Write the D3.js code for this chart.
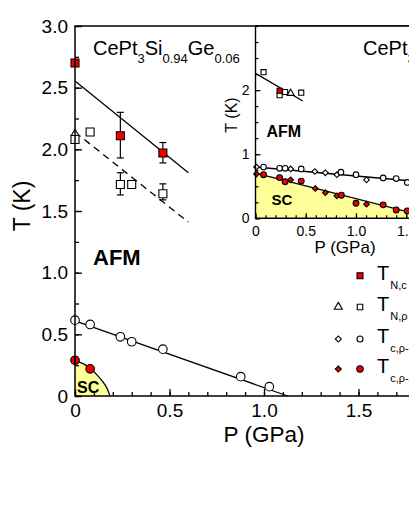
<!DOCTYPE html>
<html>
<head>
<meta charset="utf-8">
<script src="https://cdn.jsdelivr.net/npm/d3@7"></script>
<style>
body { margin: 0; background: #fff; }
svg { display: block; }
text { font-family: Arial, "Liberation Sans", sans-serif; fill: #000; }
</style>
</head>
<body>
<div id="chart"></div>
<script>
// ---- main panel data (P in GPa, T in K) ----
var tncP = [0, 0.24, 0.465];
var tncT = [2.70, 2.11, 1.97];
var tncLo = [null, 1.93, 1.89];
var tncHi = [null, 2.30, 2.055];

var tnrP = [0, 0.08, 0.24, 0.30, 0.465];
var tnrT = [2.08, 2.14, 1.715, 1.715, 1.64];
var tnrLo = [null, null, 1.63, null, 1.59];
var tnrHi = [null, null, 1.81, null, 1.72];

var triP = [0];
var triT = [2.13];

var onsetP = [0, 0.08, 0.24, 0.30, 0.465, 0.877, 1.028];
var onsetT = [0.615, 0.58, 0.48, 0.44, 0.38, 0.157, 0.076];

var zeroP = [0, 0.08];
var zeroT = [0.29, 0.22];

var afmFitP = [0, 0.60];
var afmFitT = [2.555, 1.81];
var afmDashP = [0, 0.60];
var afmDashT = [2.14, 1.41];
var onsetFitP = [0, 1.125];
var onsetFitT = [0.61, 0];
var scEdgeP = [0, 0.04, 0.08, 0.12, 0.15, 0.17, 0.185];
var scEdgeT = [0.285, 0.265, 0.225, 0.165, 0.11, 0.06, 0];

// ---- inset data ----
var inTncP = [0.24];
var inTncT = [1.99];
var inTnrP = [0.08, 0.24, 0.295, 0.455];
var inTnrT = [2.28, 1.92, 1.97, 1.96];
var inTriP = [0.35];
var inTriT = [1.95];
var inAfmP = [0, 0.47];
var inAfmT = [2.26, 1.83];

var inOnCircP = [0.08, 0.24, 0.295, 0.455, 0.85, 1.0, 1.27, 1.40, 1.51];
var inOnCircT = [0.80, 0.78, 0.78, 0.77, 0.72, 0.68, 0.63, 0.62, 0.56];
var inOnDiaP = [0.01, 0.35, 0.59, 0.695, 0.81, 1.105];
var inOnDiaT = [0.80, 0.77, 0.73, 0.71, 0.68, 0.60];
var inZeroCircP = [0.08, 0.24, 0.295, 0.455, 0.855, 1.0, 1.27, 1.40, 1.51];
var inZeroCircT = [0.68, 0.635, 0.57, 0.58, 0.36, 0.235, 0.21, 0.13, 0.115];
var inZeroDiaP = [0.01, 0.35, 0.595, 0.695, 0.81, 1.105];
var inZeroDiaT = [0.69, 0.60, 0.465, 0.40, 0.35, 0.22];
var inOnFitP = [0, 2.0];
var inOnFitT = [0.80, 0.52];
var inZeroFitP = [0, 1.77];
var inZeroFitT = [0.705, 0];

var mainXTicks = [0, 0.5, 1.0, 1.5, 2.0];
var mainYTicks = [0, 0.5, 1.0, 1.5, 2.0, 2.5, 3.0];
var inXTicks = [0, 0.5, 1.0, 1.5, 2.0];
var inYTicks = [0, 1, 2];
var legendSubs = ["N,c", "N,\u03c1", "c,\u03c1-onset", "c,\u03c1-zero"];

var RED = "#ee0000";
var YELLOW = "#ffff99";

function pts(ps, ts) {
    return ps.map(function(p, i){ return [p, ts[i]]; });
}

var w = 409, h = 529;
var svg = d3.select("#chart").append("svg")
    .attr("width", w)
    .attr("height", h);

var x = d3.scaleLinear().domain([0, 2]).range([75, 453]);
var y = d3.scaleLinear().domain([0, 3]).range([396, 26]);
var xi = d3.scaleLinear().domain([0, 2]).range([255.5, 456.5]);
var yi = d3.scaleLinear().domain([0, 3]).range([218.3, 26]);
var ident = function(d){ return d; };

var fmt = function(d){ return d === 0 ? "0" : d3.format(".1f")(d); };

// "diamond" = a square turned by 45 degrees
var DIAMOND = "diamond";

function drawLine(g, xs, ys, ps, ts, dash) {
    var line = d3.line().x(function(d){ return xs(d[0]); }).y(function(d){ return ys(d[1]); });
    g.append("path")
        .attr("d", line(pts(ps, ts)))
        .attr("fill", "none")
        .attr("stroke", "#000")
        .attr("stroke-width", 1.3)
        .attr("stroke-dasharray", dash || null);
}

function drawSymbols(g, xs, ys, ps, ts, type, size, fill) {
    var isDia = type === DIAMOND;
    var path = d3.symbol().type(isDia ? d3.symbolSquare : type).size(size)();
    g.selectAll(null)
        .data(pts(ps, ts))
        .enter()
        .append("path")
        .attr("d", path)
        .attr("transform", function(d){
            return "translate(" + xs(d[0]) + "," + ys(d[1]) + ")" + (isDia ? " rotate(45)" : "");
        })
        .attr("fill", fill)
        .attr("stroke", "#000")
        .attr("stroke-width", 1.1);
}

function drawCircles(g, xs, ys, ps, ts, r, fill) {
    g.selectAll(null)
        .data(pts(ps, ts))
        .enter()
        .append("circle")
        .attr("cx", function(d){ return xs(d[0]); })
        .attr("cy", function(d){ return ys(d[1]); })
        .attr("r", r)
        .attr("fill", fill)
        .attr("stroke", "#000")
        .attr("stroke-width", 1.1);
}

function drawErrors(g, ps, lo, hi) {
    ps.forEach(function(p, i){
        if (lo[i] === null) return;
        var cx = x(p);
        g.append("line").attr("x1", cx).attr("x2", cx)
            .attr("y1", y(lo[i])).attr("y2", y(hi[i]));
        g.append("line").attr("x1", cx - 3.5).attr("x2", cx + 3.5)
            .attr("y1", y(lo[i])).attr("y2", y(lo[i]));
        g.append("line").attr("x1", cx - 3.5).attr("x2", cx + 3.5)
            .attr("y1", y(hi[i])).attr("y2", y(hi[i]));
    });
    g.selectAll("line").attr("stroke", "#000").attr("stroke-width", 1.2);
}

// ---------- main panel ----------
var main = svg.append("g");

// SC dome
var scArea = d3.area()
    .x(function(d){ return x(d[0]); })
    .y0(y(0))
    .y1(function(d){ return y(d[1]); })
    .curve(d3.curveMonotoneX);
main.append("path")
    .attr("d", scArea(pts(scEdgeP, scEdgeT)))
    .attr("fill", YELLOW);
main.append("path")
    .attr("d", d3.line().x(function(d){ return x(d[0]); }).y(function(d){ return y(d[1]); })
        .curve(d3.curveMonotoneX)(pts(scEdgeP, scEdgeT)))
    .attr("fill", "none")
    .attr("stroke", "#000")
    .attr("stroke-width", 1.3);

drawLine(main, x, y, afmFitP, afmFitT);
drawLine(main, x, y, afmDashP, afmDashT, "7,5");
drawLine(main, x, y, onsetFitP, onsetFitT);

drawErrors(main.append("g"), tncP, tncLo, tncHi);
drawErrors(main.append("g"), tnrP, tnrLo, tnrHi);

drawSymbols(main, x, y, triP, triT, d3.symbolTriangle, 24, "#fff");
drawSymbols(main, x, y, tnrP, tnrT, d3.symbolSquare, 64, "#fff");
drawSymbols(main, x, y, tncP, tncT, d3.symbolSquare, 64, RED);
drawCircles(main, x, y, onsetP, onsetT, 4.3, "#fff");
drawCircles(main, x, y, zeroP, zeroT, 4.3, RED);

// main axes
var gx = main.append("g").attr("transform", "translate(0,396)");
gx.append("g").call(d3.axisBottom(x).tickValues(d3.range(0, 2.01, 0.1)).tickSize(-4).tickSizeOuter(0).tickFormat(""));
gx.append("g").call(d3.axisBottom(x).tickValues(mainXTicks).tickSize(-7).tickSizeOuter(0).tickPadding(8).tickFormat(fmt));
var gy = main.append("g").attr("transform", "translate(75,0)");
gy.append("g").call(d3.axisLeft(y).tickValues(d3.range(0, 3.01, 0.25)).tickSize(-4).tickSizeOuter(0).tickFormat(""));
gy.append("g").call(d3.axisLeft(y).tickValues(mainYTicks).tickSize(-7).tickSizeOuter(0).tickPadding(7).tickFormat(fmt));
main.selectAll(".domain").remove();
main.selectAll(".tick line").attr("stroke", "#000").attr("stroke-width", 1.3);
main.selectAll(".tick text").attr("font-size", "19px").attr("fill", "#000")
    .attr("font-family", 'Arial, "Liberation Sans", sans-serif');

main.append("path")
    .attr("d", "M" + x(2) + "," + y(3) + "H" + x(0) + "V" + y(0) + "H" + x(2))
    .attr("fill", "none").attr("stroke", "#000").attr("stroke-width", 1.5);

main.append("text").attr("x", 264).attr("y", 442)
    .attr("text-anchor", "middle").attr("font-size", "22.5px").text("P (GPa)");
main.append("text").attr("transform", "translate(30,206) rotate(-90)")
    .attr("text-anchor", "middle").attr("font-size", "23px").text("T (K)");

var title = main.append("text").attr("x", 93).attr("y", 55).attr("font-size", "20px");
title.append("tspan").text("CePt");
title.append("tspan").attr("font-size", "13px").attr("dy", 8).text("3");
title.append("tspan").attr("dy", -8).text("Si");
title.append("tspan").attr("font-size", "13px").attr("dy", 8).text("0.94");
title.append("tspan").attr("dy", -8).text("Ge");
title.append("tspan").attr("font-size", "13px").attr("dy", 8).text("0.06");

main.append("text").attr("x", 93).attr("y", 265)
    .attr("font-size", "22px").attr("font-weight", "bold").text("AFM");
main.append("text").attr("x", 77).attr("y", 392.5)
    .attr("font-size", "16px").attr("font-weight", "bold").text("SC");

// ---------- legend ----------
var leg = svg.append("g");
var legY = [275.7, 307, 339, 369];
drawSymbols(leg, ident, ident, [360], [legY[0]], d3.symbolSquare, 36, RED);
drawSymbols(leg, ident, ident, [338.3], [legY[1]], d3.symbolTriangle, 28, "#fff");
drawSymbols(leg, ident, ident, [360], [legY[1]], d3.symbolSquare, 30, "#fff");
drawSymbols(leg, ident, ident, [338.3], [legY[2]], DIAMOND, 18, "#fff");
drawCircles(leg, ident, ident, [360], [legY[2]], 3, "#fff");
drawSymbols(leg, ident, ident, [338.3], [legY[3]], DIAMOND, 18, RED);
drawCircles(leg, ident, ident, [360], [legY[3]], 3.2, RED);
legendSubs.forEach(function(s, i){
    var t = leg.append("text").attr("x", 377).attr("y", legY[i] + 4).attr("font-size", "20px");
    t.append("tspan").text("T");
    t.append("tspan").attr("font-size", "11px").attr("dy", 9).attr("dx", 1).text(s);
});

// ---------- inset ----------
var ins = svg.append("g");
ins.append("rect").attr("x", xi(0)).attr("y", yi(3))
    .attr("width", xi(2) - xi(0)).attr("height", yi(0) - yi(3)).attr("fill", "#fff");

var inArea = d3.area()
    .x(function(d){ return xi(d[0]); })
    .y0(yi(0))
    .y1(function(d){ return yi(d[1]); });
ins.append("path")
    .attr("d", inArea(pts(inZeroFitP, inZeroFitT)))
    .attr("fill", YELLOW);

drawLine(ins, xi, yi, inAfmP, inAfmT);
drawLine(ins, xi, yi, inOnFitP, inOnFitT);
drawLine(ins, xi, yi, inZeroFitP, inZeroFitT);

drawSymbols(ins, xi, yi, inTnrP, inTnrT, d3.symbolSquare, 26, "#fff");
drawSymbols(ins, xi, yi, inTriP, inTriT, d3.symbolTriangle, 22, "#fff");
drawSymbols(ins, xi, yi, inTncP, inTncT, d3.symbolSquare, 26, RED);
drawSymbols(ins, xi, yi, inOnDiaP, inOnDiaT, DIAMOND, 16, "#fff");
drawCircles(ins, xi, yi, inOnCircP, inOnCircT, 2.8, "#fff");
drawSymbols(ins, xi, yi, inZeroDiaP, inZeroDiaT, DIAMOND, 16, RED);
drawCircles(ins, xi, yi, inZeroCircP, inZeroCircT, 2.9, RED);

var ix = ins.append("g").attr("transform", "translate(0," + yi(0) + ")");
ix.append("g").call(d3.axisBottom(xi).tickValues(d3.range(0, 2.01, 0.1)).tickSize(-3).tickSizeOuter(0).tickFormat(""));
ix.append("g").call(d3.axisBottom(xi).tickValues(inXTicks).tickSize(-5).tickSizeOuter(0).tickPadding(8).tickFormat(fmt));
var iy = ins.append("g").attr("transform", "translate(" + xi(0) + ",0)");
iy.append("g").call(d3.axisLeft(yi).tickValues(d3.range(0, 3.01, 0.25)).tickSize(-3).tickSizeOuter(0).tickFormat(""));
iy.append("g").call(d3.axisLeft(yi).tickValues(inYTicks).tickSize(-5).tickSizeOuter(0).tickPadding(6).tickFormat(d3.format("d")));
ins.selectAll(".domain").remove();
ins.selectAll(".tick line").attr("stroke", "#000").attr("stroke-width", 1.2);
ins.selectAll(".tick text").attr("font-size", "14px").attr("fill", "#000")
    .attr("font-family", 'Arial, "Liberation Sans", sans-serif');

ins.append("path")
    .attr("d", "M" + xi(2) + "," + yi(3) + "H" + xi(0) + "V" + yi(0) + "H" + xi(2))
    .attr("fill", "none").attr("stroke", "#000").attr("stroke-width", 1.4);

ins.append("text").attr("x", 345).attr("y", 253)
    .attr("text-anchor", "middle").attr("font-size", "17px").text("P (GPa)");
ins.append("text").attr("transform", "translate(237,115) rotate(-90)")
    .attr("text-anchor", "middle").attr("font-size", "16px").text("T (K)");

var ititle = ins.append("text").attr("x", 363).attr("y", 55).attr("font-size", "20px");
ititle.append("tspan").text("CePt");
ititle.append("tspan").attr("font-size", "13px").attr("dy", 8).text("3");
ititle.append("tspan").attr("dy", -8).text("Si");

ins.append("text").attr("x", 266.5).attr("y", 136.5)
    .attr("font-size", "16px").attr("font-weight", "bold").text("AFM");
ins.append("text").attr("x", 271.5).attr("y", 205)
    .attr("font-size", "15px").attr("font-weight", "bold").text("SC");
</script>
</body>
</html>
